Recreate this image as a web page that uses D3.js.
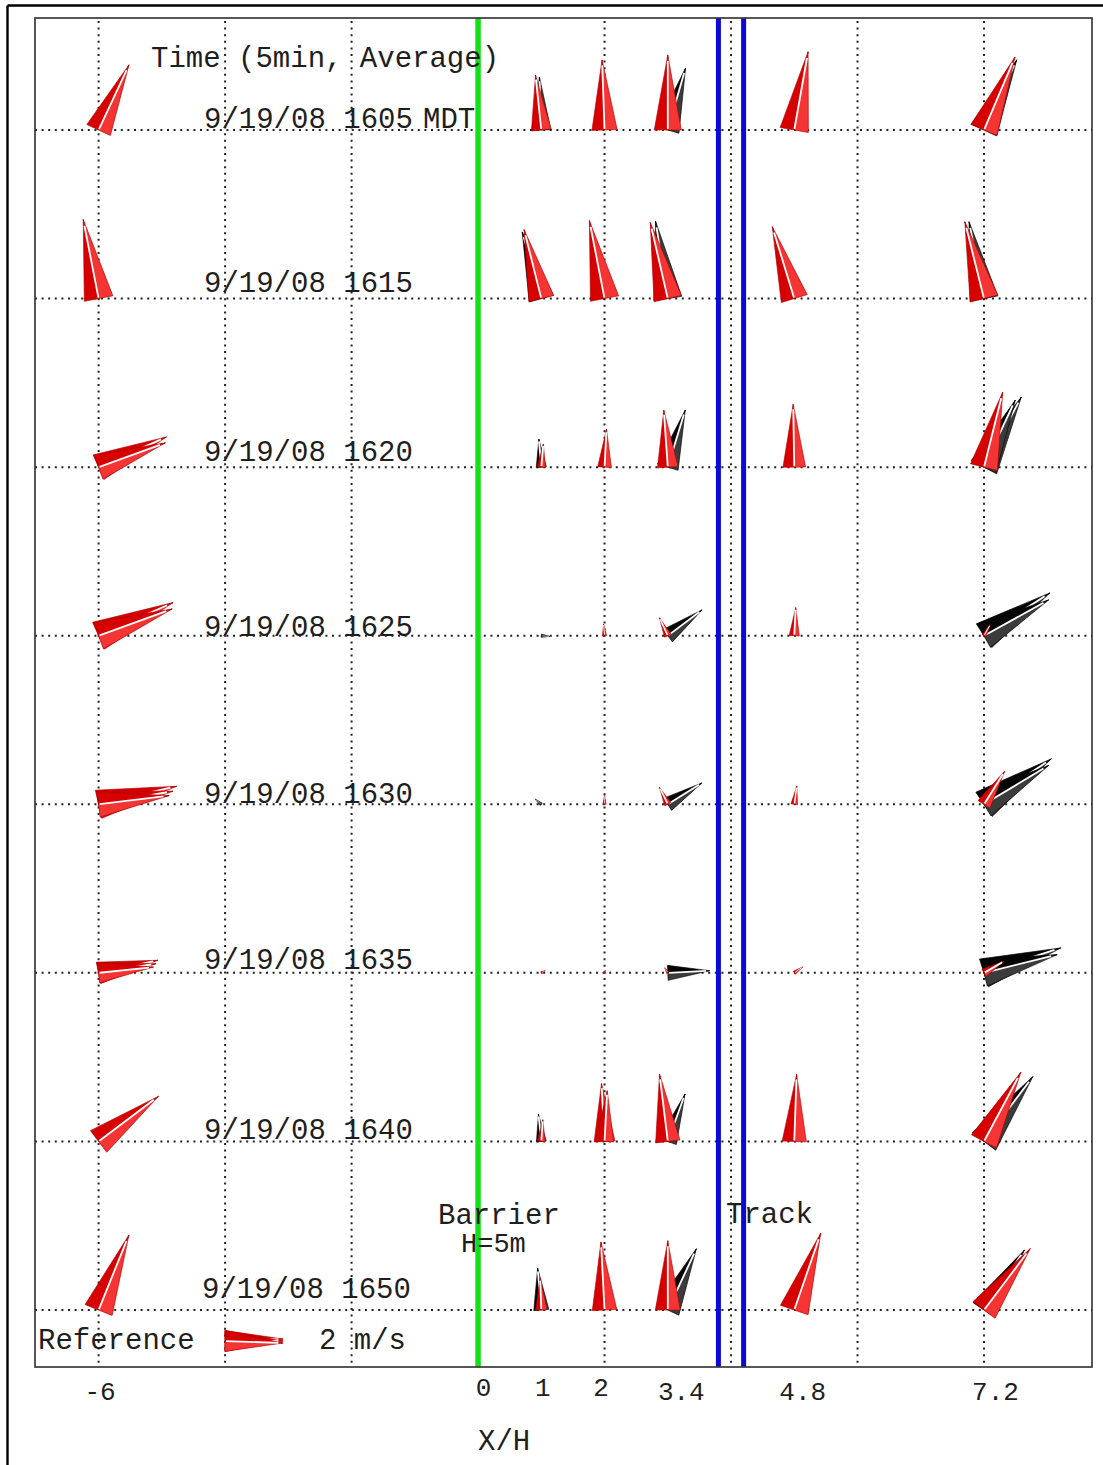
<!DOCTYPE html>
<html>
<head>
<meta charset="utf-8">
<script src="https://cdn.jsdelivr.net/npm/d3@7"></script>
<style>
  html, body { margin: 0; padding: 0; background: #fff; }
  svg { display: block; }
  text { font-family: "Liberation Mono", "Courier New", monospace; fill: #1e1e1e; }
</style>
</head>
<body>
<svg id="chart" width="1103" height="1465"></svg>
<script>
// 5-minute averaged wind vectors at stations across a roadside barrier.
const dateLabel = "9/19/08";
const times = ["1605", "1615", "1620", "1625", "1630", "1635", "1640", "1650"];
const stations = [-6, 1, 2, 3.4, 4.8, 7.2];          // X/H of each tower
const tickValues = [-6, 0, 1, 2, 3.4, 4.8, 7.2];     // X/H axis labels

// Wind vectors per time (rows) and station (columns): [speed m/s, heading deg clockwise from up]
const red = [
  [[[2.48, 25]], [[1.90, -6]], [[2.42, -2]], [[2.59, 0]], [[2.74, 10]], [[2.73, 23]]],
  [[[2.78, -11]], [[2.45, -14]], [[2.74, -11]], [[2.69, -13]], [[2.59, -17]], [[2.73, -14]]],
  [[[2.56, 66], [2.45, 70]], [[0.80, 5]], [[1.31, 3]], [[1.97, -4]], [[2.17, -1]], [[2.66, 14]]],
  [[[2.81, 66], [2.70, 70]], [], [[0.40, -5]], [[0.68, -25]], [[0.97, 3]], [[0.43, 29]]],
  [[[2.76, 77], [2.60, 80], [2.45, 83]], [], [[0.30, 0]], [[0.65, -26]], [[0.63, 8]], [[1.34, 32]]],
  [[[2.09, 78], [2.00, 81], [1.90, 84]], [[0.15, 60]], [[0.10, 20]], [[0.20, -30]], [[0.35, 55]], [[0.79, 60]]],
  [[[2.59, 53]], [[0.75, 4]], [[2.00, -3], [1.75, 3]], [[2.34, -7]], [[2.32, 2]], [[2.70, 28]]],
  [[[2.79, 22]], [[1.10, -2]], [[2.35, -3]], [[2.39, 0]], [[2.80, 19]], [[2.65, 37]]]
];
const black = [
  [[], [[1.83, -2]], [], [[2.22, 16]], [], [[2.67, 25]]],
  [[], [[2.39, -16]], [], [[2.70, -9]], [], [[2.70, -11]]],
  [[], [[0.97, -5]], [], [[2.06, 17]], [], [[2.74, 28], [2.55, 25]]],
  [[], [[0.30, 95]], [], [[1.48, 53]], [], [[2.71, 57], [2.55, 61]]],
  [[], [[0.28, -50]], [], [[1.38, 58]], [], [[2.80, 56], [2.60, 59]]],
  [[], [], [], [[1.44, 87]], [], [[2.78, 72], [2.60, 76]]],
  [[], [[0.94, -6]], [], [[1.74, 20]], [], [[2.80, 37]]],
  [[], [[1.45, -5]], [], [[2.33, 25]], [], [[2.50, 34]]]
];
const refSpeed = 2;                                  // reference vector, m/s
const refHeadings = [88, 90, 92];

// ---- layout ----
const frame = { left: 35, right: 1092, top: 18, bottom: 1367 };
const slots = [0, 3, 3.5, 4, 4.5, 5.5, 7];           // panel column of each axis value
const labelShift = [-2, -7, -6, 0, -1, -4, -2, -12]; // time label baseline vs. row line
const tickNudge = [1, 5, 1, -4, 13, 8, 11];
const fs = 29;

const svg = d3.select("#chart");
svg.append("rect").attr("width", 1103).attr("height", 1465).attr("fill", "#fff");

const panel = d3.scaleLinear().domain([0, 7]).range([98.6, 984]);
const x = d3.scaleLinear().domain(tickValues).range(slots.map(panel));
const y = d3.scaleLinear().domain([0, times.length - 1]).range([130, 1310]);
const speedPx = d3.scaleLinear().domain([0, refSpeed]).range([0, 58]);

// page border
svg.append("line").attr("x1", 7.5).attr("x2", 1103).attr("y1", 5.5).attr("y2", 5.5)
  .attr("stroke", "#000").attr("stroke-width", 2.4);
svg.append("line").attr("x1", 7.5).attr("x2", 7.5).attr("y1", 5.5).attr("y2", 1465)
  .attr("stroke", "#000").attr("stroke-width", 2.4);

// dotted grid
const grid = svg.append("g").attr("stroke", "#222").attr("stroke-width", 2)
  .attr("stroke-dasharray", "2 4.6");
grid.selectAll("line.v").data(d3.range(0, 8)).join("line").attr("class", "v")
  .attr("x1", d => panel(d)).attr("x2", d => panel(d))
  .attr("y1", frame.top + 3).attr("y2", frame.bottom);
grid.selectAll("line.h").data(times.map((t, i) => i)).join("line").attr("class", "h")
  .attr("x1", frame.left).attr("x2", frame.right)
  .attr("y1", d => y(d)).attr("y2", d => y(d));

// barrier and track
svg.append("line").attr("x1", x(0)).attr("x2", x(0))
  .attr("y1", frame.top).attr("y2", frame.bottom)
  .attr("stroke", "#14e01a").attr("stroke-width", 5.5);
[panel(5) - 12.6, panel(5) + 12.6].forEach(px => {
  svg.append("line").attr("x1", px).attr("x2", px)
    .attr("y1", frame.top).attr("y2", frame.bottom)
    .attr("stroke", "#0a0ad2").attr("stroke-width", 5);
});

// plot frame
svg.append("rect").attr("x", frame.left).attr("y", frame.top)
  .attr("width", frame.right - frame.left).attr("height", frame.bottom - frame.top)
  .attr("fill", "none").attr("stroke", "#3a3a3a").attr("stroke-width", 1.7);

// wind vector wedges
const palettes = {
  red: ["#d60000", "#f53434", "#b00000"],
  black: ["#050505", "#3c3c3c", "#000"]
};
const records = [];
times.forEach((t, r) => {
  stations.forEach((s, i) => {
    black[r][i].forEach(([sp, dir]) => records.push({ cx: x(s), cy: y(r), sp, dir, pal: "black" }));
    red[r][i].forEach(([sp, dir]) => records.push({ cx: x(s), cy: y(r), sp, dir, pal: "red" }));
  });
});
refHeadings.forEach(dir => records.push({ cx: panel(1), cy: y(7) + 31, sp: refSpeed, dir, pal: "red" }));

function drawWedge(sel) {
  sel.each(function (d) {
    const g = d3.select(this);
    const L = speedPx(d.sp);
    const h = Math.max(L * 0.18, 1.2);
    const p = palettes[d.pal];
    g.append("path").attr("d", `M0,${-L}L${-h},0L0,0Z`).attr("fill", p[0])
      .attr("stroke", p[2]).attr("stroke-width", 0.6);
    g.append("path").attr("d", `M0,${-L}L${h},0L0,0Z`).attr("fill", p[1])
      .attr("stroke", p[2]).attr("stroke-width", 0.6);
    g.append("line").attr("x1", 0).attr("y1", -1).attr("x2", 0).attr("y2", -L * 0.92)
      .attr("stroke", "#fff").attr("stroke-width", Math.min(1.8, h * 0.45));
  });
}
svg.append("g").selectAll("g").data(records).join("g")
  .attr("transform", d => `translate(${d.cx},${d.cy}) rotate(${d.dir})`)
  .call(drawWedge);

// text
svg.append("text").attr("x", 151).attr("y", 67).attr("font-size", fs).text("Time (5min, Average)");
svg.append("g").selectAll("text").data(times).join("text")
  .attr("x", (d, i) => i === 7 ? 202 : 204)
  .attr("y", (d, i) => y(i) + labelShift[i])
  .attr("font-size", fs)
  .text(d => `${dateLabel} ${d}`);
svg.append("text").attr("x", 423).attr("y", y(0) + labelShift[0]).attr("font-size", fs).text("MDT");

svg.append("text").attr("x", 438).attr("y", 1224).attr("font-size", fs).text("Barrier");
svg.append("text").attr("x", 461).attr("y", 1252).attr("font-size", 27).text("H=5m");
svg.append("text").attr("x", 726).attr("y", 1223).attr("font-size", fs).text("Track");
svg.append("text").attr("x", 38).attr("y", 1349).attr("font-size", fs).text("Reference");
svg.append("text").attr("x", 319).attr("y", 1349).attr("font-size", fs).text(`${refSpeed} m/s`);

// X/H axis
const axis = d3.axisBottom(x).tickValues(tickValues).tickSize(0).tickFormat(d => String(d));
const ag = svg.append("g").attr("transform", `translate(0,${frame.bottom})`).call(axis);
ag.select(".domain").remove();
ag.selectAll(".tick text")
  .attr("font-size", 26).attr("font-family", "Liberation Mono, monospace").attr("fill", "#1e1e1e")
  .attr("dy", 0)
  .attr("y", d => String(d).length > 1 ? 33 : 29)
  .attr("dx", (d, i) => tickNudge[i]);
svg.append("text").attr("x", 478).attr("y", 1450).attr("font-size", fs).text("X/H");
</script>
</body>
</html>
